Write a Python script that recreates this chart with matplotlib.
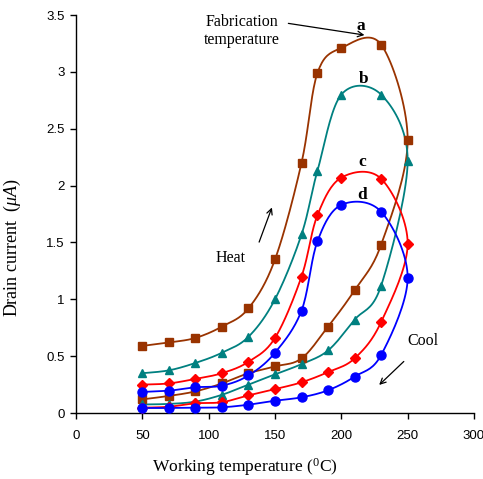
import numpy as np
import matplotlib
matplotlib.use("Agg")
import matplotlib.pyplot as plt

serif = "Liberation Serif"
plt.rcParams["mathtext.fontset"] = "custom"
plt.rcParams["mathtext.rm"] = serif
plt.rcParams["mathtext.it"] = serif + ":italic"

# ---- data ----
temps_heat = [50, 70, 90, 110, 130, 150, 170, 182, 200, 230, 250]
temps_cool = [230, 210, 190, 170, 150, 130, 110, 90, 70, 50]

a_heat = [0.59, 0.62, 0.66, 0.76, 0.92, 1.35, 2.20, 2.99, 3.21, 3.24, 2.40]
a_cool = [1.48, 1.08, 0.76, 0.48, 0.41, 0.35, 0.26, 0.19, 0.15, 0.12]
b_heat = [0.35, 0.375, 0.44, 0.53, 0.67, 1.00, 1.57, 2.13, 2.80, 2.80, 2.22]
b_cool = [1.12, 0.82, 0.55, 0.43, 0.34, 0.25, 0.16, 0.10, 0.08, 0.075]
c_heat = [0.25, 0.26, 0.30, 0.35, 0.45, 0.66, 1.20, 1.74, 2.07, 2.06, 1.49]
c_cool = [0.80, 0.48, 0.36, 0.27, 0.21, 0.155, 0.095, 0.085, 0.055, 0.047]
d_heat = [0.185, 0.196, 0.226, 0.24, 0.33, 0.53, 0.90, 1.51, 1.83, 1.77, 1.19]
d_cool = [0.51, 0.32, 0.20, 0.138, 0.108, 0.073, 0.05, 0.047, 0.044, 0.044]

series_labels = ["a", "b", "c", "d"]
x_ticks = [0, 50, 100, 150, 200, 250, 300]
y_ticks = [0, 0.5, 1, 1.5, 2, 2.5, 3, 3.5]
y_tick_labels = ["0", "0.5", "1", "1.5", "2", "2.5", "3", "3.5"]


def smooth(xs, ys, n=20):
    """Excel-like smoothed line (Bezier with Catmull-Rom control points)."""
    P = np.column_stack([xs, ys]).astype(float)
    m = len(P)
    out = [P[0]]
    for i in range(m - 1):
        p0 = P[i - 1] if i > 0 else P[i]
        p1 = P[i]
        p2 = P[i + 1]
        p3 = P[i + 2] if i + 2 < m else P[i + 1]
        c1 = p1 + (p2 - p0) / 6.0
        c2 = p2 - (p3 - p1) / 6.0
        t = np.linspace(0, 1, n)[1:, None]
        seg = ((1 - t) ** 3) * p1 + 3 * ((1 - t) ** 2) * t * c1 + 3 * (1 - t) * t ** 2 * c2 + t ** 3 * p2
        out.extend(seg)
    out = np.array(out)
    return out[:, 0], out[:, 1]


fig = plt.figure(figsize=(4.83, 4.79), dpi=100)
ax = fig.add_axes([76 / 483, 66 / 479, 398 / 483, 398 / 479])

styles = [
    dict(color="#993300", marker="s", ms=6.0),
    dict(color="#008080", marker="^", ms=5.5),
    dict(color="#FF0000", marker="D", ms=4.8),
    dict(color="#0000FF", marker="o", ms=6.5),
]
data = [(a_heat, a_cool), (b_heat, b_cool), (c_heat, c_cool), (d_heat, d_cool)]

for (h, c), st in zip(data, styles):
    xs = list(temps_heat) + list(temps_cool)
    ys = list(h) + list(c)
    sx, sy = smooth(xs, ys)
    ax.plot(sx, sy, color=st["color"], lw=1.3, zorder=2)
    ax.plot(xs, ys, linestyle="none", marker=st["marker"], ms=st["ms"],
            color=st["color"], mec=st["color"], zorder=3)

ax.set_xlim(0, 300)
ax.set_ylim(0, 3.5)
ax.set_xticks(x_ticks)
ax.set_yticks(y_ticks)
ax.set_xticklabels([str(v) for v in x_ticks])
ax.set_yticklabels(y_tick_labels)
for sp in ["top", "right"]:
    ax.spines[sp].set_visible(False)
for sp in ["left", "bottom"]:
    ax.spines[sp].set_linewidth(1.0)
ax.tick_params(direction="out", length=4, width=1.0, labelsize=9.5, pad=4)
for lab in ax.get_xticklabels() + ax.get_yticklabels():
    lab.set_fontfamily("Liberation Sans")
ax.tick_params(axis="x", pad=8)

ax.set_xlabel(r"Working temperature ($^{0}$C)", fontfamily=serif, fontsize=12.6)
ax.xaxis.set_label_coords((245 - 76) / 398, -(456 - 413) / 398)
ax.set_ylabel(r"Drain current  ($\mu A$)", fontfamily=serif, fontsize=13)
ax.yaxis.set_label_coords(-(76 - 23) / 398, (413 - 248) / 398)

label_pos = [(214.5, 3.40), (217, 2.94), (215.5, 2.21), (216, 1.92)]
for lab, (lx, ly) in zip(series_labels, label_pos):
    ax.text(lx, ly, lab, fontfamily=serif, fontweight="bold", fontsize=12.5,
            ha="center", va="center")

ax.annotate("", xy=(219.5, 3.32), xytext=(158, 3.43),
            arrowprops=dict(arrowstyle="->", color="black", lw=0.9))
ax.text(125, 3.36, "Fabrication\ntemperature", fontfamily=serif, fontsize=11.5,
        ha="center", va="center", linespacing=1.1)

ax.annotate("", xy=(148.4, 1.83), xytext=(137.3, 1.48),
            arrowprops=dict(arrowstyle="->", color="black", lw=0.9))
ax.text(116.5, 1.36, "Heat", fontfamily=serif, fontsize=11.5, ha="center", va="center")

ax.annotate("", xy=(227, 0.23), xytext=(248.6, 0.47),
            arrowprops=dict(arrowstyle="->", color="black", lw=0.9))
ax.text(261.5, 0.63, "Cool", fontfamily=serif, fontsize=11.5, ha="center", va="center")

fig.savefig("out.png", dpi=100)
